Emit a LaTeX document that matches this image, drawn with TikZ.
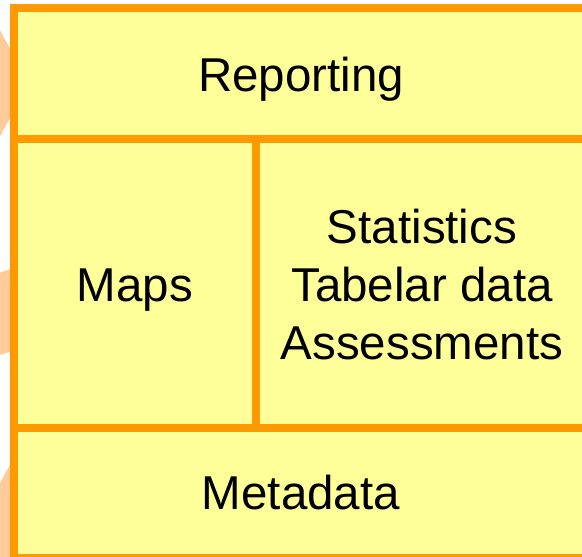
\documentclass[tikz,border=0pt]{standalone}
\usepackage{fontspec}
\setmainfont{Liberation Sans}
\definecolor{bordorange}{HTML}{FF9900}
\definecolor{cellyellow}{HTML}{FFFF99}
\definecolor{peach}{HTML}{FFCC99}
\tikzset{
  cell/.style={draw=bordorange, fill=cellyellow, line width=8pt, inner sep=0pt, outer sep=0pt,
    align=center, text depth=0pt, font=\fontsize{47.5}{58}\selectfont},
  backshape/.style={fill=peach, draw=none}
}
\begin{document}
\begin{tikzpicture}[x=1pt,y=-1pt]
\useasboundingbox (0,0) rectangle (582,557);
% peach shapes behind the box
\fill[backshape] (-10,12) -- (29,83) -- (-10,155) -- cycle;
\fill[backshape] (-10,276) -- (16,267) -- (16,350) -- (-10,358) -- cycle;
\fill[backshape] (-10,501) -- (16,454) -- (16,570) -- (-10,570) -- cycle;
% cells
\node[cell, minimum width=574pt, minimum height=131pt] (reporting) at (301,73.5) {\raisebox{-1pt}{Reporting}};
\node[cell, minimum width=242pt, minimum height=288.5pt] (maps) at (135,283.25) {\raisebox{-4pt}{Maps}};
\node[cell, minimum width=332pt, minimum height=288.5pt] (stats) at (422,283.25) {\raisebox{-2pt}{Statistics}\\\raisebox{-2pt}{Tabelar data}\\\raisebox{-2pt}{Assessments}};
\node[cell, minimum width=574pt, minimum height=130.5pt] (metadata) at (301,492.75) {Metadata};
\end{tikzpicture}
\end{document}
